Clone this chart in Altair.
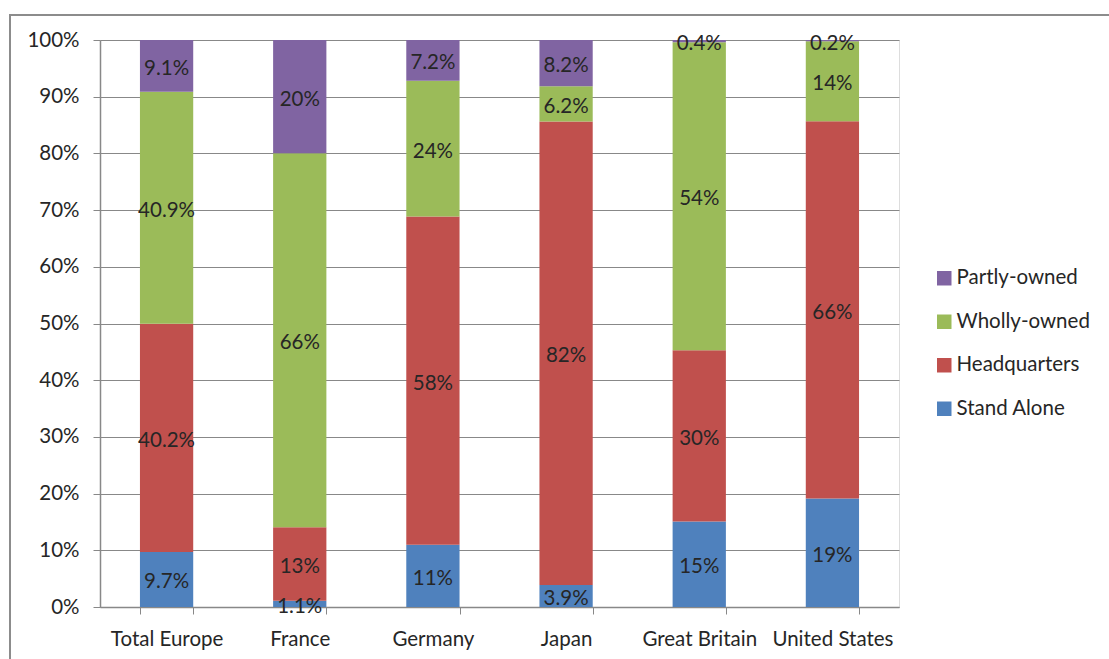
import altair as alt
import pandas as pd

countries = ["Total Europe", "France", "Germany", "Japan", "Great Britain", "United States"]
series = ["Stand Alone", "Headquarters", "Wholly-owned", "Partly-owned"]
stand_alone = [9.7, 1.1, 11, 3.9, 15, 19]
headquarters = [40.2, 13, 58, 82, 30, 66]
wholly_owned = [40.9, 66, 24, 6.2, 54, 14]
partly_owned = [9.1, 20, 7.2, 8.2, 0.4, 0.2]
colors = ["#4F81BD", "#C0504D", "#9BBB59", "#8064A2"]
y_ticks = [0, 0.1, 0.2, 0.3, 0.4, 0.5, 0.6, 0.7, 0.8, 0.9, 1.0]

rows = []
for si, (name, vals) in enumerate(zip(series, [stand_alone, headquarters, wholly_owned, partly_owned])):
    for c, v in zip(countries, vals):
        rows.append({"country": c, "series": name, "value": v, "order": si})
df = pd.DataFrame(rows)

FONT = "Lato"
FS = 20.5
TXT = "#262626"
GRID = "#888888"

legend_domain = list(reversed(series))
legend_range = list(reversed(colors))

base = alt.Chart(df).transform_stack(
    stack="value", groupby=["country"], as_=["y0", "y1"], offset="normalize",
    sort=[alt.SortField("order", order="ascending")]
).transform_calculate(
    mid="(datum.y0 + datum.y1) / 2",
    label="(datum.value % 1 == 0 ? format(datum.value, 'd') : format(datum.value, '.1f')) + '%'"
)

x_enc = alt.X("country:N", sort=countries, title=None,
              scale=alt.Scale(paddingInner=0.6, paddingOuter=0.3),
              axis=alt.Axis(labelAngle=0, labelFont=FONT, labelFontSize=FS, labelColor=TXT,
                            labelPadding=15, domainColor=GRID, tickColor=GRID, tickSize=7,
                            tickBand="extent", domainWidth=1.5, grid=False))

bars = base.mark_bar().encode(
    x=x_enc,
    y=alt.Y("y0:Q", title=None, scale=alt.Scale(domain=[0, 1], nice=False),
            axis=alt.Axis(format=".0%", values=y_ticks, labelFont=FONT, labelFontSize=FS,
                          labelColor=TXT, labelPadding=14, domainColor=GRID, domainWidth=1.5,
                          tickColor=GRID, tickSize=7, gridColor=GRID, gridWidth=1.2)),
    y2="y1:Q",
    color=alt.Color("series:N", scale=alt.Scale(domain=legend_domain, range=legend_range),
                    legend=alt.Legend(title=None, orient="none", legendX=834, legendY=228,
                                      symbolType="square", symbolSize=210, symbolStrokeWidth=0,
                                      labelFont=FONT, labelFontSize=FS, labelColor=TXT,
                                      rowPadding=22.5, labelOffset=2, padding=0)),
)

labels = base.mark_text(font=FONT, fontSize=FS, color=TXT, baseline="middle", dy=3).encode(
    x=alt.X("country:N", sort=countries),
    y=alt.Y("mid:Q"),
    text="label:N",
)

border = alt.Chart(pd.DataFrame({"a": [0]})).mark_rect(
    fill=None, stroke="#8c8c8c", strokeWidth=2
).encode(x=alt.value(-90), x2=alt.value(1030), y=alt.value(-25), y2=alt.value(640))

chart = alt.layer(border, bars, labels).properties(
    width=799, height=567,
    autosize=alt.AutoSizeParams(type="none"),
    padding={"left": 100, "top": 40, "right": 210, "bottom": 52},
).configure_view(stroke=None).configure(background="white")

chart.save("out.html", embed_options={"renderer": "svg", "actions": False})
